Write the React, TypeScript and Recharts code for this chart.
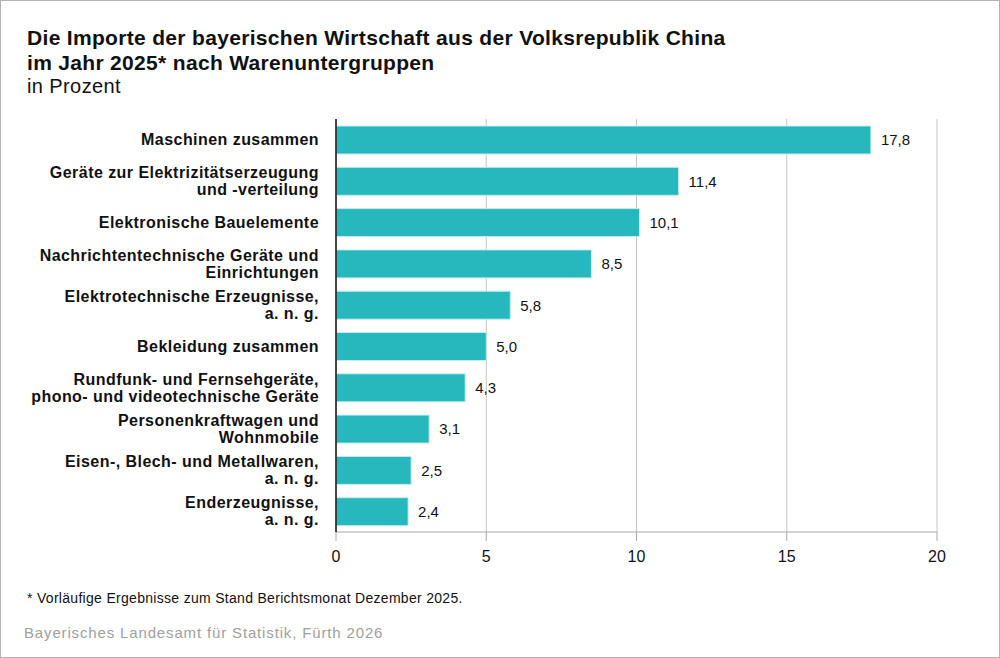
import { BarChart, Bar, XAxis, YAxis, CartesianGrid, LabelList } from 'recharts';

const categories = [
  'Maschinen zusammen',
  'Geräte zur Elektrizitätserzeugung\nund -verteilung',
  'Elektronische Bauelemente',
  'Nachrichtentechnische Geräte und\nEinrichtungen',
  'Elektrotechnische Erzeugnisse,\na. n. g.',
  'Bekleidung zusammen',
  'Rundfunk- und Fernsehgeräte,\nphono- und videotechnische Geräte',
  'Personenkraftwagen und\nWohnmobile',
  'Eisen-, Blech- und Metallwaren,\na. n. g.',
  'Enderzeugnisse,\na. n. g.',
];
const shares = [17.8, 11.4, 10.1, 8.5, 5.8, 5.0, 4.3, 3.1, 2.5, 2.4];
const xTicks = [0, 5, 10, 15, 20];

const data = categories.map((name, i) => ({ name, value: shares[i] }));

const FONT = '"Liberation Sans", Arial, sans-serif';
const NARROW = '"Liberation Sans Narrow", "Liberation Sans", Arial, sans-serif';

function CategoryTick(props: any) {
  const { x, y, payload } = props;
  const lines: string[] = String(payload.value).split('\n');
  const lh = 17;
  const start = -((lines.length - 1) * lh) / 2;
  return (
    <text
      x={x}
      y={y}
      textAnchor="end"
      fontFamily={FONT}
      fontSize={16}
      fontWeight="bold"
      fill="#111"
      style={{ letterSpacing: 0.45 }}
    >
      {lines.map((l, i) => (
        <tspan key={i} x={x} y={y + start + i * lh} dy="0.35em">
          {l}
        </tspan>
      ))}
    </text>
  );
}

export default function App() {
  return (
    <div
      style={{
        position: 'absolute',
        left: 0,
        top: 0,
        width: 998,
        height: 656,
        border: '1px solid #b4b4b4',
        background: '#fff',
        fontFamily: FONT,
        overflow: 'hidden',
      }}
    >
      <div
        style={{
          position: 'absolute',
          left: 26,
          top: 24,
          fontSize: 21,
          fontWeight: 'bold',
          lineHeight: '25px',
          letterSpacing: 0.32,
          color: '#111',
        }}
      >
        Die Importe der bayerischen Wirtschaft aus der Volksrepublik China
        <br />
        im Jahr 2025* nach Warenuntergruppen
      </div>
      <div style={{ position: 'absolute', left: 26, top: 74, fontSize: 20, letterSpacing: 0.4, color: '#111' }}>
        in Prozent
      </div>

      <div style={{ position: 'absolute', left: 0, top: 0 }}>
        <BarChart
          width={1000}
          height={580}
          data={data}
          layout="vertical"
          margin={{ top: 118, right: 64, bottom: 19, left: 0 }}
          barSize={28}
        >
          <CartesianGrid horizontal={false} stroke="#c4c4c4" strokeWidth={1} />
          <XAxis
            type="number"
            domain={[0, 20]}
            ticks={xTicks}
            height={30}
            tickSize={9}
            tickMargin={10}
            axisLine={{ stroke: '#a8a8a8' }}
            tickLine={{ stroke: '#a8a8a8' }}
            tick={{ fontFamily: NARROW, fontSize: 16, fill: '#111' }}
          />
          <YAxis
            type="category"
            dataKey="name"
            width={335}
            tickSize={0}
            tickMargin={17}
            axisLine={{ stroke: '#111', strokeWidth: 1.5 }}
            tickLine={false}
            tick={<CategoryTick />}
            interval={0}
          />
          <Bar dataKey="value" fill="#27b8bd" stroke="#c6ecec" strokeWidth={1} isAnimationActive={false}>
            <LabelList
              dataKey="value"
              position="right"
              offset={10}
              formatter={(v: any) => Number(v).toFixed(1).replace('.', ',')}
              style={{ fontFamily: FONT, fontSize: 15, fill: '#111' }}
            />
          </Bar>
        </BarChart>
      </div>

      <div style={{ position: 'absolute', left: 26, top: 589, fontSize: 14, letterSpacing: 0.3, color: '#111' }}>
        * Vorläufige Ergebnisse zum Stand Berichtsmonat Dezember 2025.
      </div>
      <div style={{ position: 'absolute', left: 23, top: 623, fontSize: 15, letterSpacing: 0.85, color: '#a0a0a0' }}>
        Bayerisches Landesamt für Statistik, Fürth 2026
      </div>
    </div>
  );
}
